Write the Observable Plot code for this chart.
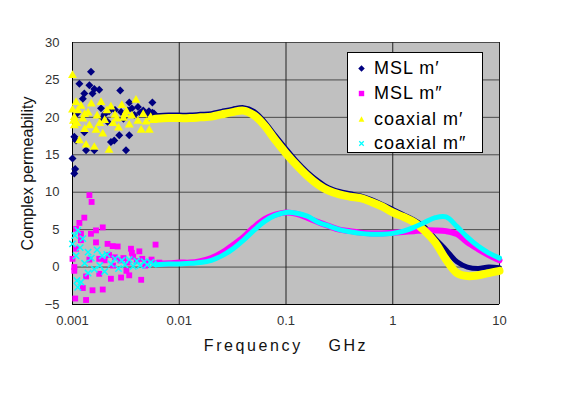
<!DOCTYPE html>
<html><head><meta charset="utf-8">
<script src="https://cdn.jsdelivr.net/npm/d3@7"></script>
<script src="https://cdn.jsdelivr.net/npm/@observablehq/plot@0.6"></script>
<style>
body{margin:0;background:#fff;font-family:"Liberation Sans",Arial,sans-serif;}
#wrap{position:relative;width:565px;height:397px;}
#legend{position:absolute;left:347px;top:52px;width:134px;height:99px;border:1px solid #000;background:#fff;}
.item{position:absolute;left:0;height:24px;display:flex;align-items:center;}
.item svg{margin-left:9px;width:9px;height:9px;}
.item span{margin-left:8px;font-size:18px;letter-spacing:1px;color:#000;white-space:nowrap;}
</style></head><body><div id="wrap"></div>
<script>
// ---- data ----
const seriesNames = ["MSL m′", "MSL m″", "coaxial m′", "coaxial m″"];
const seriesColors = ["#000080", "#ff00ff", "#ffff00", "#00ffff"];
const xTicks = [0.001, 0.01, 0.1, 1, 10];
const yTicks = [-5, 0, 5, 10, 15, 20, 25, 30];

// smooth part (GHz)
const freqSmooth = [0.006,0.008,0.01,0.0126,0.0158,0.02,0.025,0.0316,0.04,0.05,0.063,0.079,0.1,0.126,0.158,0.2,0.25,0.316,0.4,0.5,0.63,0.79,1,1.26,1.58,2,2.5,3.16,4,5,6.3,7.9,10];
const mslReal   = [20.2,20.3,20.3,20.3,20.4,20.5,20.8,21.1,21.3,20.8,19.4,17.6,15.8,14.1,12.7,11.5,10.6,10.1,9.8,9.5,9.0,8.4,7.7,7.0,6.3,5.3,3.8,2.3,0.7,0.0,-0.2,0.0,-0.1];
const mslImag   = [0.5,0.5,0.6,0.6,0.8,1.2,1.9,2.9,4.0,5.3,6.4,7.0,7.3,7.1,6.6,6.0,5.5,5.0,4.8,4.6,4.5,4.5,4.6,4.7,4.8,4.9,4.9,4.8,4.4,3.3,2.4,1.6,0.9];
const coaxReal  = [19.8,19.9,19.9,19.9,20.0,20.1,20.4,20.7,20.9,20.3,18.9,17.0,15.2,13.6,12.2,11.0,10.2,9.7,9.4,9.2,8.7,8.1,7.3,6.7,6.0,4.8,3.3,1.0,-0.8,-1.2,-1.1,-0.8,-0.5];
const coaxImag  = [0.3,0.4,0.4,0.5,0.6,0.9,1.5,2.4,3.6,4.9,6.1,6.9,7.3,7.2,6.8,6.0,5.5,5.0,4.7,4.5,4.4,4.4,4.5,4.8,5.3,6.0,6.6,6.7,5.4,4.0,2.8,1.9,1.2];

// noisy low-frequency part [GHz, value]
const mslRealNoise = [[0.001,14.5],[0.00104,12.5],[0.00106,13.1],[0.00104,17.4],[0.00108,16.9],[0.00116,24.5],[0.00129,23.2],[0.00129,18.0],[0.00134,15.6],[0.00144,24.3],[0.00149,26.1],[0.00154,23.2],[0.0016,23.8],[0.0016,15.6],[0.00178,23.7],[0.00185,21.2],[0.0019,19.9],[0.002,20.4],[0.00213,19.4],[0.0022,20.8],[0.00229,16.7],[0.00246,16.9],[0.0025,21.0],[0.00274,17.6],[0.0028,23.6],[0.00285,20.7],[0.003,19.8],[0.00317,15.6],[0.0033,20.9],[0.0034,22.0],[0.0034,17.6],[0.0036,21.2],[0.0038,20.3],[0.0041,21.4],[0.0043,20.6],[0.0046,20.9],[0.0049,20.4],[0.0052,20.8],[0.0056,22.0],[0.0056,20.6],[0.0058,20.5],[0.00125,22.5],[0.0011,20.5]];
const mslImagNoise = [[0.00144,9.6],[0.00151,8.7],[0.00129,6.6],[0.00116,5.9],[0.00108,5.1],[0.0012,4.45],[0.00149,4.45],[0.00166,4.9],[0.00192,5.3],[0.0012,3.6],[0.00166,3.3],[0.00213,3.1],[0.00238,2.8],[0.00265,2.75],[0.00353,2.45],[0.00423,2.1],[0.006,3.0],[0.00108,2.45],[0.001,1.1],[0.00144,1.0],[0.00178,1.1],[0.002,0.9],[0.0022,1.6],[0.0025,1.3],[0.0028,0.9],[0.003,1.2],[0.0033,0.6],[0.0037,1.4],[0.004,0.8],[0.0045,1.1],[0.005,0.6],[0.0055,1.0],[0.00104,0.0],[0.00104,-0.5],[0.00134,-1.25],[0.00178,-0.9],[0.00229,-1.56],[0.00285,-1.4],[0.0034,-1.1],[0.0044,-1.7],[0.00125,-2.8],[0.00154,-3.1],[0.00192,-3.0],[0.00106,-4.2],[0.00134,-4.4],[0.0024,0.2],[0.0032,-0.5],[0.0036,1.9],[0.0048,0.2],[0.0065,0.6]];
const coaxRealNoise = [[0.001,25.6],[0.001,21.0],[0.00102,19.5],[0.00104,20.0],[0.00104,18.9],[0.00108,22.0],[0.0011,19.2],[0.00112,20.9],[0.00116,16.9],[0.0012,21.5],[0.00125,19.8],[0.0013,18.4],[0.00134,16.3],[0.0014,20.6],[0.00144,18.9],[0.0015,21.8],[0.0016,16.0],[0.00166,18.3],[0.0017,20.2],[0.00185,22.0],[0.00192,17.8],[0.002,19.6],[0.0021,20.9],[0.0022,15.6],[0.00229,21.4],[0.0024,19.2],[0.0025,20.3],[0.0027,18.6],[0.0029,21.6],[0.003,19.9],[0.0032,20.8],[0.0034,19.0],[0.0036,20.2],[0.00393,22.3],[0.0041,19.5],[0.0044,18.3],[0.0046,20.4],[0.0049,19.4],[0.00524,18.3],[0.0054,20.0],[0.0057,19.6],[0.0013,20.4],[0.0018,19.2],[0.0026,19.8],[0.0031,20.4]];
const coaxImagNoise = [[0.001,3.1],[0.00105,4.2],[0.00112,4.9],[0.00108,1.5],[0.0011,-1.8],[0.00112,-2.7],[0.0012,-2.0],[0.00118,2.6],[0.00125,3.8],[0.0013,0.5],[0.0014,-0.8],[0.0014,2.0],[0.0015,1.2],[0.0016,-0.3],[0.0017,2.3],[0.0018,0.2],[0.0019,1.5],[0.002,-0.6],[0.0021,1.7],[0.0023,0.4],[0.0025,1.1],[0.0027,-0.2],[0.0029,0.9],[0.0031,0.3],[0.0034,1.0],[0.0037,0.1],[0.004,0.8],[0.0043,0.2],[0.0047,0.7],[0.005,0.3],[0.0054,0.6],[0.0057,0.4]];

// ---- build tables ----
const smooth = arr => freqSmooth.map((f, i) => ({f, v: arr[i]}));
const pts = arr => arr.map(([f, v]) => ({f, v}));
const lineMsl = smooth(mslReal), lineMslI = smooth(mslImag), lineCoax = smooth(coaxReal), lineCoaxI = smooth(coaxImag);

const chart = Plot.plot({
  width: 565, height: 397,
  marginLeft: 72, marginRight: 66, marginTop: 42, marginBottom: 93,
  style: {fontFamily: '"Liberation Sans", Arial, sans-serif', fontSize: "13px", background: "#fff"},
  x: {type: "log", domain: [0.001, 10]},
  y: {domain: [-5, 30]},
  marks: [
    Plot.frame({fill: "#c0c0c0", stroke: null}),
    Plot.gridY(yTicks, {stroke: "#4a4a4a", strokeOpacity: 1}),
    Plot.gridX(xTicks, {stroke: "#222", strokeOpacity: 1}),
    Plot.axisY(yTicks, {tickSize: 0, tickPadding: 13, fill: "#333", label: null, fontSize: 13}),
    Plot.axisX(xTicks, {tickSize: 0, tickPadding: 11, fill: "#333", label: null, fontSize: 13, tickFormat: d => String(d)}),
    Plot.ruleX([0.001], {stroke: "#000"}),
    Plot.ruleY([-5], {stroke: "#000"}),
    // MSL m'
    Plot.dot(pts(mslRealNoise), {x: "f", y: "v", symbol: "diamond2", fill: seriesColors[0], r: 3.6}),
    Plot.line(lineMsl, {x: "f", y: "v", stroke: seriesColors[0], strokeWidth: 5, curve: "catmull-rom"}),
    // MSL m"
    Plot.dot(pts(mslImagNoise), {x: "f", y: "v", symbol: "square", fill: seriesColors[1], r: 3.3}),
    Plot.line(lineMslI, {x: "f", y: "v", stroke: seriesColors[1], strokeWidth: 6, curve: "catmull-rom"}),
    // coaxial m'
    Plot.dot(pts(coaxRealNoise), {x: "f", y: "v", symbol: "triangle", fill: seriesColors[2], r: 3.3}),
    Plot.line(lineCoax, {x: "f", y: "v", stroke: seriesColors[2], strokeWidth: 8, curve: "catmull-rom"}),
    // coaxial m"
    Plot.dot(pts(coaxImagNoise), {x: "f", y: "v", symbol: "times", stroke: seriesColors[3], strokeWidth: 1.5, r: 3}),
    Plot.line(lineCoaxI, {x: "f", y: "v", stroke: seriesColors[3], strokeWidth: 5, curve: "catmull-rom"}),
    // axis titles
    Plot.text(["Complex permeability"], {frameAnchor: "left", textAnchor: "middle", rotate: -90, dx: -45, fontSize: 16, fill: "#111"}),
    Plot.text(["Frequency　 GHz"], {frameAnchor: "bottom", dy: 46, fontSize: 16, fill: "#111"})
  ]
});
d3.select(chart).selectAll("text").filter(function(){ return this.textContent.startsWith("Frequency"); })
  .style("letter-spacing", "2.6px");

const wrap = document.getElementById("wrap");
wrap.appendChild(chart);

// legend
const legend = document.createElement("div");
legend.id = "legend";
const icons = [
  '<svg viewBox="-5 -5 10 10"><path d="M0,-3.6L3.6,0L0,3.6L-3.6,0Z" fill="#000080"/></svg>',
  '<svg viewBox="-5 -5 10 10"><rect x="-3" y="-3" width="6" height="6" fill="#ff00ff"/></svg>',
  '<svg viewBox="-5 -5 10 10"><path d="M0,-3.5L3.2,2.5L-3.2,2.5Z" fill="#ffff00"/></svg>',
  '<svg viewBox="-5 -5 10 10"><path d="M-2.5,-2.5L2.5,2.5M2.5,-2.5L-2.5,2.5" stroke="#00ffff" stroke-width="1.4"/></svg>'
];
const tops = [3, 28, 54, 78];
seriesNames.forEach((name, i) => {
  const it = document.createElement("div");
  it.className = "item";
  it.style.top = tops[i] + "px";
  it.innerHTML = icons[i] + "<span>" + name + "</span>";
  legend.appendChild(it);
});
wrap.appendChild(legend);
</script></body></html>
